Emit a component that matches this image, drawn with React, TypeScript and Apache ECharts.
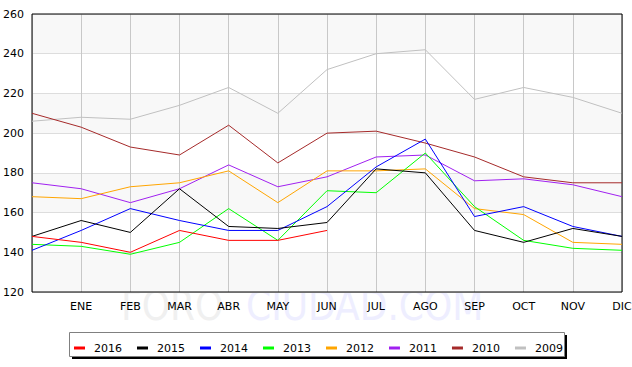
import React, { useEffect, useRef } from "react";
import * as echarts from "echarts";

const months = ["", "ENE", "FEB", "MAR", "ABR", "MAY", "JUN", "JUL", "AGO", "SEP", "OCT", "NOV", "DIC"];
const yTicks = { min: 120, max: 260, interval: 20 };

const s2016 = [148, 145, 140, 151, 146, 146, 151, null, null, null, null, null, null];
const s2015 = [148, 156, 150, 172, 153, 152, 155, 182, 180, 151, 145, 152, 148];
const s2014 = [141, 151, 162, 156, 151, 151, 163, 183, 197, 158, 163, 153, 148];
const s2013 = [144, 143, 139, 145, 162, 146, 171, 170, 190, 163, 146, 142, 141];
const s2012 = [168, 167, 173, 175, 181, 165, 181, 181, 182, 162, 159, 145, 144];
const s2011 = [175, 172, 165, 172, 184, 173, 178, 188, 189, 176, 177, 174, 168];
const s2010 = [210, 203, 193, 189, 204, 185, 200, 201, 195, 188, 178, 175, 175];
const s2009 = [206, 208, 207, 214, 223, 210, 232, 240, 242, 217, 223, 218, 210];

const seriesDefs = [
  { name: "2016", data: s2016, color: "#ff0000" },
  { name: "2015", data: s2015, color: "#000000" },
  { name: "2014", data: s2014, color: "#0000ff" },
  { name: "2013", data: s2013, color: "#00ff00" },
  { name: "2012", data: s2012, color: "#ffa500" },
  { name: "2011", data: s2011, color: "#a020f0" },
  { name: "2010", data: s2010, color: "#a52a2a" },
  { name: "2009", data: s2009, color: "#c0c0c0" },
];

const FONT = "DejaVu Sans";
const WM_FONT = "'DejaVu Sans Condensed', 'DejaVu Sans'";

export default function App() {
  const ref = useRef<HTMLDivElement>(null);
  useEffect(() => {
    if (!ref.current) return;
    const chart = echarts.init(ref.current, null, { renderer: "svg" });
    chart.setOption({
      animation: false,
      backgroundColor: "#ffffff",
      grid: {
        left: 32,
        right: 10,
        top: 14,
        bottom: 75,
        show: true,
        borderColor: "#000000",
        borderWidth: 1,
        backgroundColor: "transparent",
        z: 3,
        outerBoundsMode: "none",
      },
      graphic: [
        {
          type: "text",
          x: 121,
          y: 306,
          z: -10,
          style: { text: "FORO", fill: "#f0f0f0", fontSize: 40, fontFamily: WM_FONT, verticalAlign: "middle" },
        },
        {
          type: "text",
          x: 246,
          y: 306,
          z: -10,
          style: { text: "CIUDAD.COM", fill: "#eeeeff", fontSize: 40, fontFamily: WM_FONT, verticalAlign: "middle" },
        },
        {
          type: "rect",
          shape: { x: 72, y: 335, width: 495, height: 24 },
          style: { fill: "#000000" },
          z: 1,
        },
        {
          type: "rect",
          shape: { x: 69.5, y: 332.5, width: 495, height: 24 },
          style: { fill: "#ffffff", stroke: "#808080", lineWidth: 1 },
          z: 2,
        },
      ],
      legend: {
        data: seriesDefs.map((s) => s.name),
        left: 74,
        top: 341,
        padding: 0,
        icon: "rect",
        itemWidth: 11,
        itemHeight: 3,
        itemGap: 15,
        z: 10,
        textStyle: {
          fontFamily: FONT,
          fontSize: 11,
          color: "#000000",
          lineHeight: 14,
          padding: [0, 0, 0, 4],
        },
      },
      xAxis: {
        type: "category",
        data: months,
        boundaryGap: false,
        axisLine: { show: false },
        axisTick: { show: false },
        axisLabel: {
          interval: 0,
          margin: 9,
          color: "#000000",
          fontFamily: FONT,
          fontSize: 11,
        },
        splitLine: { show: true, lineStyle: { color: "#c8c8c8", width: 1 } },
      },
      yAxis: {
        type: "value",
        min: yTicks.min,
        max: yTicks.max,
        interval: yTicks.interval,
        axisLine: { show: false },
        axisTick: { show: false },
        axisLabel: {
          margin: 8,
          color: "#000000",
          fontFamily: FONT,
          fontSize: 11,
        },
        splitLine: { show: true, lineStyle: { color: "#dddddd", width: 1 } },
        splitArea: { show: true, areaStyle: { color: ["#f8f8f8", "#ffffff"] } },
      },
      series: seriesDefs
        .slice()
        .reverse()
        .map((s) => ({
          name: s.name,
          type: "line",
          data: s.data,
          color: s.color,
          showSymbol: false,
          symbol: "none",
          lineStyle: { width: 1, color: s.color },
          connectNulls: false,
        })),
    });
    return () => chart.dispose();
  }, []);
  return (
    <div
      ref={ref}
      style={{ position: "fixed", left: 0, top: 0, width: 632, height: 367 }}
    />
  );
}
